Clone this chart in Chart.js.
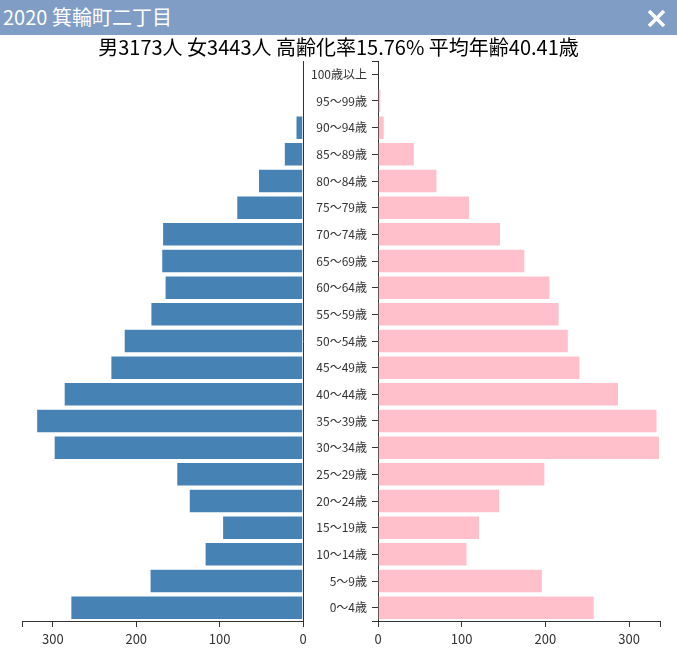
<!DOCTYPE html>
<html lang="ja">
<head>
<meta charset="utf-8">
<title>2020 箕輪町二丁目</title>
<script src="https://cdn.jsdelivr.net/npm/chart.js@4.4.1/dist/chart.umd.min.js"></script>
<style>
html, body {
    margin: 0;
    padding: 0;
    background: #fff;
}
body {
    width: 677px;
    height: 656px;
    position: relative;
    overflow: hidden;
    font-family: "Noto Sans CJK JP", "Noto Sans", sans-serif;
}
#header {
    position: absolute;
    left: 0;
    top: 0;
    width: 677px;
    height: 35px;
    background: #7f9dc5;
    color: #fff;
}
#header .title {
    position: absolute;
    left: 3px;
    top: 3px;
    font-size: 20px;
    line-height: 28px;
}
#close {
    position: absolute;
    left: 647px;
    top: 9px;
}
#summary {
    position: absolute;
    left: 0;
    top: 35px;
    width: 677px;
    text-align: center;
    font-size: 20px;
    line-height: 24px;
    color: #000;
}
</style>
</head>
<body>

<canvas id="maleChart" width="340" height="656" style="position:absolute;left:0;top:0"></canvas>
<canvas id="femaleChart" width="377" height="656" style="position:absolute;left:300px;top:0"></canvas>

<div id="header">
    <span class="title">2020 箕輪町二丁目</span>
    <svg id="close" width="19" height="19" viewBox="0 0 19 19">
        <line x1="2" y1="2" x2="17" y2="17" stroke="#fff" stroke-width="3.6"/>
        <line x1="17" y1="2" x2="2" y2="17" stroke="#fff" stroke-width="3.6"/>
    </svg>
</div>
<div id="summary">男3173人 女3443人 高齢化率15.76% 平均年齢40.41歳</div>

<script>
const ageGroups = [
    "0～4歳", "5～9歳", "10～14歳", "15～19歳", "20～24歳",
    "25～29歳", "30～34歳", "35～39歳", "40～44歳", "45～49歳",
    "50～54歳", "55～59歳", "60～64歳", "65～69歳", "70～74歳",
    "75～79歳", "80～84歳", "85～89歳", "90～94歳", "95～99歳",
    "100歳以上"
];

const male = [
    279, 184, 118, 97, 137,
    152, 299, 320, 287, 231,
    215, 183, 166, 170, 169,
    80, 54, 23, 9, 0,
    0
];

const female = [
    259, 197, 107, 122, 146,
    200, 337, 334, 288, 242,
    228, 217, 206, 176, 147,
    110, 71, 44, 8, 4,
    0
];

const tickValues = [0, 100, 200, 300];

const axisMax = Math.max(...male, ...female);

const fontFamily = '"Noto Sans CJK JP", "Noto Sans", sans-serif';
const axisColor = "#333";

Chart.defaults.font.family = fontFamily;
Chart.defaults.color = axisColor;

// d3-like end caps on the age axis
const axisCaps = {
    id: "axisCaps",
    afterDraw(chart, args, opts) {
        if (!opts.draw) return;
        const {ctx, chartArea} = chart;
        ctx.save();
        ctx.strokeStyle = axisColor;
        ctx.lineWidth = 1;
        ctx.beginPath();
        [chartArea.top, chartArea.bottom].forEach(y => {
            const yy = Math.round(y) + 0.5;
            ctx.moveTo(chartArea.left - 6, yy);
            ctx.lineTo(chartArea.left, yy);
        });
        ctx.stroke();
        ctx.restore();
    }
};

function valueAxis(reverse) {
    return {
        type: "linear",
        position: "bottom",
        min: 0,
        max: axisMax,
        reverse: reverse,
        afterBuildTicks: scale => {
            scale.ticks = tickValues
                .concat([axisMax])
                .map(v => ({value: v}));
        },
        ticks: {
            autoSkip: false,
            maxRotation: 0,
            padding: 4,
            color: axisColor,
            font: {size: 13},
            callback: v => tickValues.includes(v) ? v : ""
        },
        grid: {
            drawOnChartArea: false,
            drawTicks: true,
            tickLength: 6,
            tickColor: axisColor
        },
        border: {
            display: true,
            color: axisColor
        },
        afterFit: scale => {
            scale.height = 35;
        }
    };
}

function barSet(values, color, edge) {
    return {
        data: values,
        backgroundColor: color,
        borderColor: edge,
        borderWidth: 1,
        borderSkipped: "start",
        barPercentage: 0.92,
        categoryPercentage: 1
    };
}

new Chart(document.getElementById("maleChart"), {
    type: "bar",
    data: {
        labels: ageGroups,
        datasets: [barSet(male, "#4682b4", "rgba(255,255,255,.55)")]
    },
    options: {
        indexAxis: "y",
        responsive: false,
        animation: false,
        layout: {
            padding: {top: 61, left: 22, right: 37, bottom: 0}
        },
        plugins: {
            legend: {display: false},
            tooltip: {enabled: false},
            axisCaps: {draw: false}
        },
        scales: {
            x: valueAxis(true),
            y: {
                type: "category",
                position: "right",
                reverse: true,
                ticks: {display: false},
                grid: {display: false},
                border: {display: true, color: axisColor},
                afterFit: scale => {
                    scale.width = 0;
                }
            }
        }
    },
    plugins: [axisCaps]
});

new Chart(document.getElementById("femaleChart"), {
    type: "bar",
    data: {
        labels: ageGroups,
        datasets: [barSet(female, "#ffc0cb", "rgba(255,255,255,.6)")]
    },
    options: {
        indexAxis: "y",
        responsive: false,
        animation: false,
        layout: {
            padding: {top: 61, left: 0, right: 17, bottom: 0}
        },
        plugins: {
            legend: {display: false},
            tooltip: {enabled: false},
            axisCaps: {draw: true}
        },
        scales: {
            x: valueAxis(false),
            y: {
                type: "category",
                position: "left",
                reverse: true,
                ticks: {
                    autoSkip: false,
                    padding: 5,
                    color: axisColor,
                    font: {size: 12}
                },
                grid: {
                    offset: false,
                    drawOnChartArea: false,
                    drawTicks: true,
                    tickLength: 6,
                    tickColor: axisColor
                },
                border: {display: true, color: axisColor},
                afterFit: scale => {
                    scale.width = 78;
                }
            }
        }
    },
    plugins: [axisCaps]
});
</script>
</body>
</html>
